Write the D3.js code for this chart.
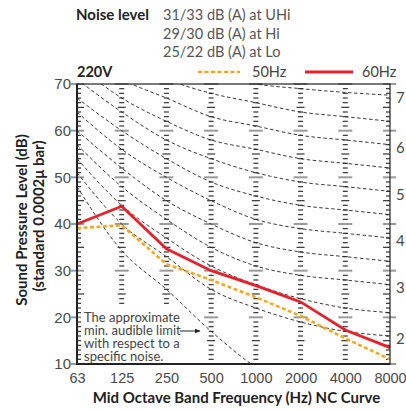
<!DOCTYPE html>
<html>
<head>
<meta charset="utf-8">
<script src="https://cdn.jsdelivr.net/npm/d3@7"></script>
<style>
  body { margin: 0; background: #fff; }
  svg { display: block; font-family: Lato, "Open Sans", sans-serif; }
  .tick text { fill: #4a4a4a; }
</style>
</head>
<body>
<div id="chart"></div>
<script>
// octave band centre frequencies
let freqs = ["63", "125", "250", "500", "1000", "2000", "4000", "8000"];

// measured sound pressure levels (dB)
let hz50 = [39.1, 39.7, 31.4, 28, 24.3, 20.3, 15.5, 11];
let hz60 = [40, 43.8, 34.7, 30, 26.8, 23.3, 17.3, 13.5];

// NC curves (NC-20 ... NC-70)
let ncLevels = [20, 25, 30, 35, 40, 45, 50, 55, 60, 65, 70];
let ncValues = [
  [51, 40, 33, 26, 22, 19, 17, 16],
  [54, 44, 37, 31, 27, 24, 22, 21],
  [57, 48, 41, 35, 31, 29, 28, 27],
  [60, 52, 45, 40, 36, 34, 33, 32],
  [64, 56, 50, 45, 41, 39, 38, 37],
  [67, 60, 54, 49, 46, 44, 43, 42],
  [71, 64, 58, 54, 51, 49, 48, 47],
  [74, 67, 62, 58, 56, 54, 53, 52],
  [77, 71, 67, 63, 61, 59, 58, 57],
  [80, 75, 71, 68, 66, 64, 63, 62],
  [83, 79, 75, 72, 70, 69, 68.2, 67.6]
];
// right edge labels, only the first digit shows inside the page
let ncLabels = ["2", "3", "4", "5", "6", "7"];
let ncLabelLevels = [20, 30, 40, 50, 60, 70];

// approximate minimum audible limit
let audible = [48, 34.3, 26, 17, 9.3, 4, 1, 0];

let yTicks = [10, 20, 30, 40, 50, 60, 70];

let noiseLines = ["31/33 dB (A) at UHi", "29/30 dB (A) at Hi", "25/22 dB (A) at Lo"];
let noteLines = ["The approximate", "min. audible limit", "with respect to a", "specific noise."];

// svg size
let svgWidth = 406;
let svgHeight = 410;

// plot box
let plot = { left: 77, right: 390, top: 84, bottom: 364 };

let svg = d3.select("#chart")
  .append("svg")
  .attr("width", svgWidth)
  .attr("height", svgHeight);

// scales
let x = d3.scalePoint()
  .domain(freqs)
  .range([plot.left, plot.right]);

let y = d3.scaleLinear()
  .domain([10, 70])
  .range([plot.bottom, plot.top]);

svg.append("clipPath")
  .attr("id", "plotClip")
  .append("rect")
  .attr("x", plot.left)
  .attr("y", plot.top)
  .attr("width", plot.right - plot.left)
  .attr("height", plot.bottom - plot.top);

// ruler ticks on every column
let dbSteps = d3.range(10, 71);
freqs.forEach(function(f, i) {
  let cx = x(f);
  let g = svg.append("g");
  g.selectAll("line")
    .data(dbSteps)
    .enter()
    .append("line")
    .attr("x1", d => {
      if (i === 0) return d % 10 === 0 ? cx - 6 : cx;
      if (i === freqs.length - 1) return d % 10 === 0 ? cx - 7 : (d % 5 === 0 ? cx - 7 : cx - 4);
      return d % 10 === 0 ? cx - 7 : (d % 5 === 0 ? cx - 4 : cx - 2.5);
    })
    .attr("x2", d => {
      if (i === 0) return d % 10 === 0 ? cx + 7 : (d % 5 === 0 ? cx + 7 : cx + 4);
      if (i === freqs.length - 1) return d % 10 === 0 ? cx + 6 : cx;
      return d % 10 === 0 ? cx + 7 : (d % 5 === 0 ? cx + 4 : cx + 2.5);
    })
    .attr("y1", d => y(d))
    .attr("y2", d => y(d))
    .attr("stroke", d => d % 10 === 0 ? "#9a9a9a" : "#333")
    .attr("stroke-width", d => d % 10 === 0 ? 2 : 1.2);
});

// NC curves
let curveLine = d3.line()
  .x((d, i) => x(freqs[i]))
  .y(d => y(d))
  .curve(d3.curveMonotoneX);

let curves = svg.append("g").attr("clip-path", "url(#plotClip)");

curves.selectAll("path.nc")
  .data(ncValues)
  .enter()
  .append("path")
  .attr("class", "nc")
  .attr("d", curveLine)
  .attr("fill", "none")
  .attr("stroke", "#222")
  .attr("stroke-width", 0.9)
  .attr("stroke-dasharray", "3.5,2.5");

curves.append("path")
  .attr("d", curveLine(audible))
  .attr("fill", "none")
  .attr("stroke", "#222")
  .attr("stroke-width", 0.9)
  .attr("stroke-dasharray", "3.5,2.5");

// note box over the lower left corner
svg.append("rect")
  .attr("x", 81)
  .attr("y", 306)
  .attr("width", 102)
  .attr("height", 56)
  .attr("fill", "#fff");

let note = svg.append("text")
  .attr("x", 84)
  .attr("y", 322)
  .attr("fill", "#444")
  .attr("font-size", 13);

note.selectAll("tspan")
  .data(noteLines)
  .enter()
  .append("tspan")
  .attr("x", 84)
  .attr("dy", (d, i) => i === 0 ? 0 : 13)
  .text(d => d);

// arrow to the audible limit curve
svg.append("defs").append("marker")
  .attr("id", "arrow")
  .attr("viewBox", "0 0 10 10")
  .attr("refX", 9)
  .attr("refY", 5)
  .attr("markerWidth", 6)
  .attr("markerHeight", 6)
  .attr("orient", "auto")
  .append("path")
  .attr("d", "M0,1 L10,5 L0,9 Z")
  .attr("fill", "#222");

svg.append("line")
  .attr("x1", 180)
  .attr("x2", 200)
  .attr("y1", 331)
  .attr("y2", 331)
  .attr("stroke", "#222")
  .attr("stroke-width", 1)
  .attr("marker-end", "url(#arrow)");

// data lines
let dataLine = d3.line()
  .x((d, i) => x(freqs[i]))
  .y(d => y(d));

svg.append("path")
  .attr("d", dataLine(hz50))
  .attr("fill", "none")
  .attr("stroke", "#f5a81c")
  .attr("stroke-width", 2.6)
  .attr("stroke-dasharray", "4,2.5");

svg.append("path")
  .attr("d", dataLine(hz60))
  .attr("fill", "none")
  .attr("stroke", "#e8202a")
  .attr("stroke-width", 2.8);

// frame
svg.append("rect")
  .attr("x", plot.left)
  .attr("y", plot.top)
  .attr("width", plot.right - plot.left)
  .attr("height", plot.bottom - plot.top)
  .attr("fill", "none")
  .attr("stroke", "#222")
  .attr("stroke-width", 1.2);

svg.append("line")
  .attr("x1", plot.left)
  .attr("x2", plot.left)
  .attr("y1", plot.top)
  .attr("y2", plot.bottom + 1)
  .attr("stroke", "#222")
  .attr("stroke-width", 2);

svg.append("line")
  .attr("x1", plot.left - 1)
  .attr("x2", plot.right)
  .attr("y1", plot.bottom)
  .attr("y2", plot.bottom)
  .attr("stroke", "#222")
  .attr("stroke-width", 2);

// axes labels
let leftAxis = d3.axisLeft(y).tickValues(yTicks).tickSize(0).tickPadding(6);
svg.append("g")
  .attr("transform", `translate(${plot.left}, 0)`)
  .call(leftAxis)
  .call(g => g.select(".domain").remove())
  .call(g => g.selectAll("text").attr("font-size", 15));

let bottomAxis = d3.axisBottom(x).tickSize(0).tickPadding(9);
svg.append("g")
  .attr("transform", `translate(0, ${plot.bottom})`)
  .call(bottomAxis)
  .call(g => g.select(".domain").remove())
  .call(g => g.selectAll("text").attr("font-size", 14.5));

// NC labels on the right edge
svg.append("g")
  .selectAll("text")
  .data(ncLabels)
  .enter()
  .append("text")
  .attr("x", 396)
  .attr("y", (d, i) => y(ncValues[ncLevels.indexOf(ncLabelLevels[i])][7]) + 3)
  .attr("dy", "0.35em")
  .attr("fill", "#4a4a4a")
  .attr("font-size", 15)
  .text(d => d);

// axis titles
svg.append("text")
  .attr("x", (plot.left + plot.right) / 2 + 3)
  .attr("y", 403)
  .attr("text-anchor", "middle")
  .attr("font-size", 15)
  .attr("font-weight", "bold")
  .attr("fill", "#222")
  .text("Mid Octave Band Frequency (Hz) NC Curve");

svg.append("text")
  .attr("transform", "translate(27, 220) rotate(-90)")
  .attr("text-anchor", "middle")
  .attr("font-size", 15)
  .attr("font-weight", "bold")
  .attr("fill", "#222")
  .text("Sound Pressure Level (dB)");

svg.append("text")
  .attr("transform", "translate(44, 216) rotate(-90)")
  .attr("text-anchor", "middle")
  .attr("font-size", 15)
  .attr("font-weight", "bold")
  .attr("fill", "#222")
  .text("(standard 0.0002μ bar)");

// header
svg.append("text")
  .attr("x", 76)
  .attr("y", 20)
  .attr("font-size", 15)
  .attr("font-weight", "bold")
  .attr("fill", "#222")
  .text("Noise level");

svg.append("g")
  .selectAll("text")
  .data(noiseLines)
  .enter()
  .append("text")
  .attr("x", 163)
  .attr("y", (d, i) => 20 + i * 18.5)
  .attr("font-size", 14.5)
  .attr("fill", "#555")
  .text(d => d);

svg.append("text")
  .attr("x", 77)
  .attr("y", 77)
  .attr("font-size", 14.5)
  .attr("font-weight", "bold")
  .attr("fill", "#222")
  .text("220V");

// legend
svg.append("line")
  .attr("x1", 198).attr("x2", 240)
  .attr("y1", 72).attr("y2", 72)
  .attr("stroke", "#f5a81c")
  .attr("stroke-width", 2.6)
  .attr("stroke-dasharray", "4,2.5");

svg.append("text")
  .attr("x", 252).attr("y", 77)
  .attr("font-size", 14.5)
  .attr("fill", "#444")
  .text("50Hz");

svg.append("line")
  .attr("x1", 305).attr("x2", 353)
  .attr("y1", 72).attr("y2", 72)
  .attr("stroke", "#e8202a")
  .attr("stroke-width", 2.8);

svg.append("text")
  .attr("x", 362).attr("y", 77)
  .attr("font-size", 14.5)
  .attr("fill", "#444")
  .text("60Hz");
</script>
</body>
</html>
